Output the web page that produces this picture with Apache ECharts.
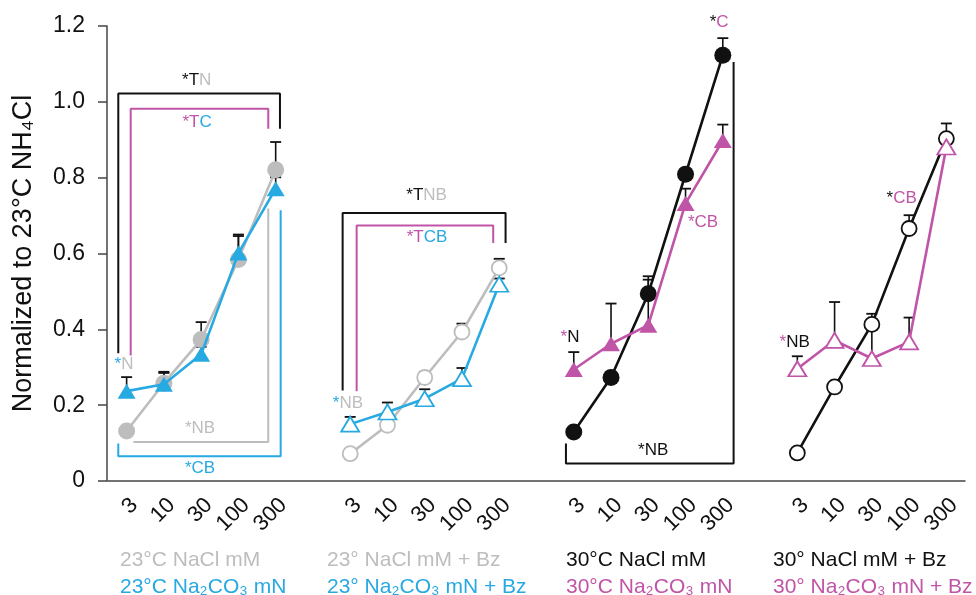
<!DOCTYPE html>
<html><head><meta charset="utf-8">
<script src="https://cdn.jsdelivr.net/npm/echarts@6/dist/echarts.min.js"></script>
<style>html,body{margin:0;padding:0;background:#fff}#c{width:976px;height:595px}</style>
</head><body><div id="c"></div>
<script>
// ---------- data ----------
const concentrations = ['3', '10', '30', '100', '300'];
const groupTitles = [
  ['23°C NaCl mM', '23°C Na₂CO₃ mN'],
  ['23° NaCl mM + Bz', '23° Na₂CO₃ mN + Bz'],
  ['30°C NaCl mM', '30°C Na₂CO₃ mN'],
  ['30° NaCl mM + Bz', '30° Na₂CO₃ mN + Bz']
];
const yTicks = [0, 0.2, 0.4, 0.6, 0.8, 1.0, 1.2];

const nacl23      = [0.132, 0.258, 0.373, 0.584, 0.821];
const nacl23Err   = [0.010, 0.030, 0.046, 0.066, 0.073];
const carb23      = [0.237, 0.255, 0.334, 0.601, 0.771];
const carb23Err   = [0.037, 0.030, 0.020, 0.045, 0.030];
const nacl23Bz    = [0.072, 0.147, 0.273, 0.393, 0.562];
const nacl23BzErr = [0.010, 0.015, 0.015, 0.022, 0.024];
const carb23Bz    = [0.150, 0.182, 0.217, 0.270, 0.519];
const carb23BzErr = [0.019, 0.025, 0.025, 0.028, 0.015];
const nacl30      = [0.129, 0.273, 0.494, 0.809, 1.123];
const nacl30Err   = [0.010, 0.015, 0.046, 0.015, 0.045];
const carb30      = [0.294, 0.362, 0.411, 0.732, 0.898];
const carb30Err   = [0.046, 0.106, 0.120, 0.039, 0.042];
const nacl30Bz    = [0.074, 0.248, 0.413, 0.666, 0.903];
const nacl30BzErr = [0.010, 0.010, 0.028, 0.035, 0.040];
const carb30Bz    = [0.296, 0.371, 0.323, 0.367, 0.881];
const carb30BzErr = [0.033, 0.101, 0.075, 0.064, 0.010];

// significance brackets (x in category-index units, y in data units)
const bracketG1Black   = [[-0.224, 0.337], [-0.224, 1.022], [4.115, 1.022], [4.115, 0.929]];
const bracketG1Magenta = [[0.109, 0.331], [0.109, 0.982], [3.801, 0.982], [3.801, 0.929]];
const bracketG1Gray    = [[3.801, 0.719], [3.801, 0.103], [0.179, 0.103]];
const bracketG1Blue    = [[-0.224, 0.099], [-0.224, 0.065], [4.134, 0.065], [4.134, 0.714]];
const bracketG2Black   = [[5.797, 0.239], [5.797, 0.707], [10.17, 0.707], [10.17, 0.628]];
const bracketG2Magenta = [[6.173, 0.237], [6.173, 0.674], [9.838, 0.674], [9.838, 0.628]];
const bracketG3Black   = [[16.29, 1.105], [16.29, 0.046], [11.79, 0.046], [11.79, 0.099]];

// significance labels: [x, y, [[text, colourKey], ...]]
const sigLabels = [
  [1.88, 1.057, [['*T', 'k'], ['N', 'g']]],
  [1.89, 0.947, [['*T', 'm'], ['C', 'b']]],
  [-0.07, 0.308, [['*', 'b'], ['N', 'g']]],
  [1.97, 0.139, [['*NB', 'g']]],
  [1.97, 0.033, [['*CB', 'b']]],
  [8.05, 0.753, [['*T', 'k'], ['NB', 'g']]],
  [8.06, 0.643, [['*T', 'm'], ['CB', 'b']]],
  [5.94, 0.205, [['*', 'b'], ['NB', 'g']]],
  [14.13, 0.081, [['*NB', 'k']]],
  [15.90, 1.210, [['*', 'k'], ['C', 'm']]],
  [15.47, 0.683, [['*CB', 'm']]],
  [11.90, 0.380, [['*', 'm'], ['N', 'k']]],
  [17.93, 0.367, [['*', 'm'], ['NB', 'k']]],
  [20.80, 0.745, [['*', 'k'], ['CB', 'm']]]
];

// ---------- styling ----------
const C = { k: '#111111', g: '#bdbdbd', b: '#27a9e1', m: '#c054a7' };
const FONT = "'Liberation Sans', Arial, Helvetica, sans-serif";

const categories = [];
for (let g = 0; g < 4; g++) {
  concentrations.forEach(c => categories.push(c));
  if (g < 3) categories.push('');
}

const seriesDefs = [
  { g: 0, vals: nacl23,   errs: nacl23Err,   color: C.g, symbol: 'circle',   filled: true },
  { g: 0, vals: carb23,   errs: carb23Err,   color: C.b, symbol: 'triangle', filled: true },
  { g: 1, vals: nacl23Bz, errs: nacl23BzErr, color: C.g, symbol: 'circle',   filled: false },
  { g: 1, vals: carb23Bz, errs: carb23BzErr, color: C.b, symbol: 'triangle', filled: false },
  { g: 2, vals: nacl30,   errs: nacl30Err,   color: C.k, symbol: 'circle',   filled: true },
  { g: 2, vals: carb30,   errs: carb30Err,   color: C.m, symbol: 'triangle', filled: true },
  { g: 3, vals: nacl30Bz, errs: nacl30BzErr, color: C.k, symbol: 'circle',   filled: false },
  { g: 3, vals: carb30Bz, errs: carb30BzErr, color: C.m, symbol: 'triangle', filled: false }
];

const series = [];
const errData = [];
seriesDefs.forEach((d, si) => {
  const pts = d.vals.map((v, k) => [d.g * 6 + k, v]);
  d.vals.forEach((v, k) => errData.push([d.g * 6 + k, v, d.errs[k]]));
  series.push({
    type: 'line', xAxisIndex: 0, yAxisIndex: 0, data: pts, z: 3 + si,
    symbol: d.symbol,
    symbolSize: d.symbol === 'circle' ? (d.filled ? 17 : 15) : [18, 15],
    showAllSymbol: true,
    lineStyle: { color: d.color, width: 2.6 },
    itemStyle: d.filled ? { color: d.color, borderWidth: 0 }
                        : { color: '#ffffff', borderColor: d.color, borderWidth: 1.8 },
    emphasis: { disabled: true }
  });
});

// error bars
series.push({
  type: 'custom', xAxisIndex: 1, yAxisIndex: 0, z: 2, data: errData,
  renderItem(params, api) {
    const x = api.value(0), v = api.value(1), e = api.value(2);
    const p0 = api.coord([x, v]), p1 = api.coord([x, v + e]);
    return { type: 'group', children: [
      { type: 'line', shape: { x1: p0[0], y1: p0[1], x2: p1[0], y2: p1[1] }, style: { stroke: '#111', lineWidth: 1.6 } },
      { type: 'line', shape: { x1: p1[0] - 5.5, y1: p1[1], x2: p1[0] + 5.5, y2: p1[1] }, style: { stroke: '#111', lineWidth: 1.8 } }
    ] };
  }
});

// brackets
[[bracketG1Black, C.k], [bracketG1Magenta, C.m], [bracketG1Gray, C.g], [bracketG1Blue, C.b],
 [bracketG2Black, C.k], [bracketG2Magenta, C.m], [bracketG3Black, C.k]].forEach(([pts, col]) => {
  series.push({
    type: 'line', xAxisIndex: 1, yAxisIndex: 0, data: pts, symbol: 'none', z: 1,
    lineStyle: { color: col, width: 2 }, emphasis: { disabled: true }, clip: false
  });
});

// significance labels
const richStyles = {};
Object.keys(C).forEach(key => {
  richStyles[key] = { fill: C[key], fontSize: 17, fontFamily: FONT };
});
series.push({
  type: 'custom', xAxisIndex: 1, yAxisIndex: 0, z: 10, clip: false,
  data: sigLabels.map((l, i) => [l[0], l[1], i]),
  renderItem(params, api) {
    const p = api.coord([api.value(0), api.value(1)]);
    const parts = sigLabels[api.value(2)][2];
    return {
      type: 'text', x: p[0], y: p[1],
      style: {
        text: parts.map(([t, c]) => '{' + c + '|' + t + '}').join(''),
        rich: richStyles, align: 'center', verticalAlign: 'middle',
        fontSize: 17, fontFamily: FONT
      }
    };
  }
});

// group titles
const graphics = [];
const titleLeft = [120, 327, 566, 773];
const titleColors = [[C.g, C.b], [C.g, C.b], [C.k, C.m], [C.k, C.m]];
groupTitles.forEach((t, g) => {
  t.forEach((txt, line) => {
    graphics.push({
      type: 'text', x: titleLeft[g], y: line === 0 ? 560 : 587,
      style: { text: txt, fill: titleColors[g][line], fontSize: 21, fontFamily: FONT, verticalAlign: 'middle' }
    });
  });
});

const chart = echarts.init(document.getElementById('c'), null, { renderer: 'canvas' });
chart.setOption({
  animation: false,
  backgroundColor: '#ffffff',
  grid: { left: 108, right: 11, top: 26, bottom: 114, containLabel: false },
  xAxis: [
    {
      type: 'category', data: categories, boundaryGap: true,
      axisLine: { onZero: false, lineStyle: { color: '#444', width: 1.5 } },
      axisTick: { alignWithLabel: true, length: 8, lineStyle: { color: '#444', width: 1.5 },
                  interval: (idx, val) => val !== '' },
      axisLabel: { interval: 0, rotate: 45, margin: 13, verticalAlign: 'top',
                   fontSize: 22, color: '#111', fontFamily: FONT },
      splitLine: { show: false }
    },
    { type: 'value', min: -0.5, max: 22.5, show: false }
  ],
  yAxis: {
    type: 'value', min: 0, max: 1.2, interval: 0.2, offset: 1,
    name: 'Normalized to 23°C NH₄Cl', nameLocation: 'middle', nameGap: 70,
    nameTextStyle: { fontSize: 27, color: '#111', fontFamily: FONT },
    axisLine: { show: true, onZero: false, lineStyle: { color: '#444', width: 1.5 } },
    axisTick: { show: true, length: 9, lineStyle: { color: '#444', width: 1.5 } },
    axisLabel: { fontSize: 23, color: '#111', margin: 22, fontFamily: FONT,
                 formatter: v => (yTicks.indexOf(+v.toFixed(1)) >= 0 ? (v === 0 ? '0' : v.toFixed(1)) : '') },
    splitLine: { show: false }
  },
  graphic: graphics,
  series: series
});
</script>
</body></html>
